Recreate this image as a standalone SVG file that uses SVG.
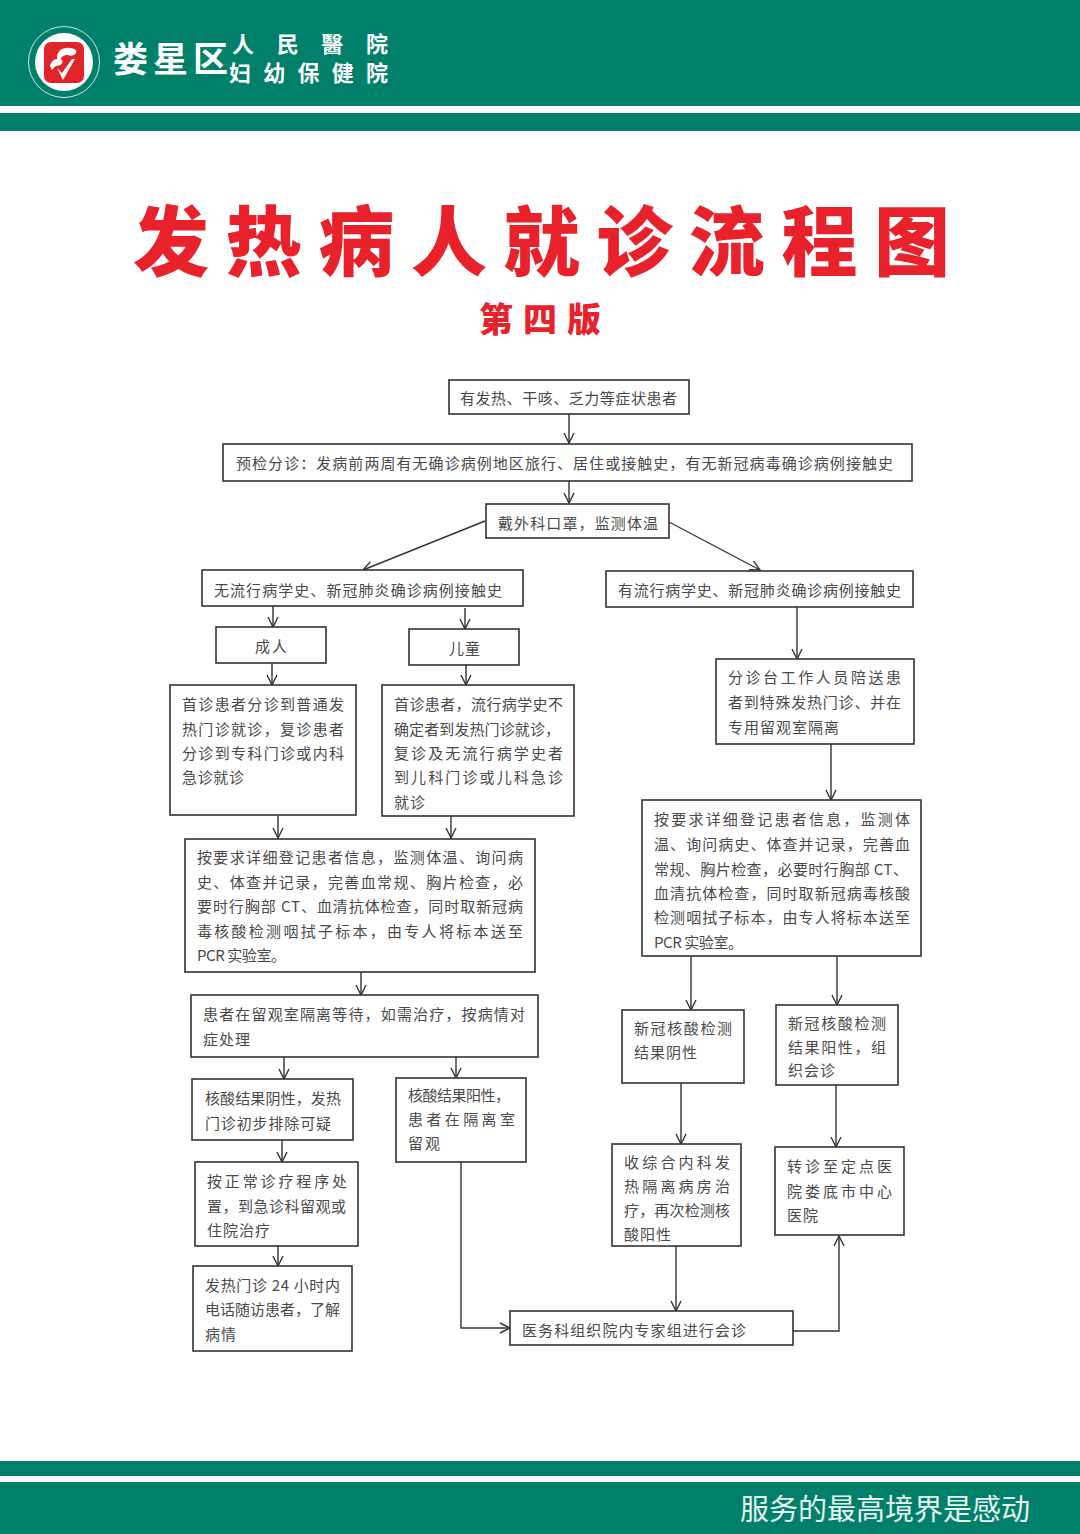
<svg xmlns="http://www.w3.org/2000/svg" width="1080" height="1534" viewBox="0 0 1080 1534">
<style>
.bar{fill:#00806a}
.b{fill:#fff;stroke:#333;stroke-width:1.6}
.t{font-family:"Noto Sans CJK SC","Liberation Sans",sans-serif;font-size:15px;fill:#4a4a4a;font-weight:400}
.c{fill:none;stroke:#333;stroke-width:1.4}
.logo{font-family:"Noto Sans CJK TC","Noto Sans CJK SC",sans-serif;fill:#fff;font-weight:700}
.title{font-family:"Noto Sans CJK SC","Liberation Sans",sans-serif;font-weight:900;fill:#e8212b}
</style>
<defs>
<marker id="a" viewBox="0 0 12 12" refX="11" refY="6" markerWidth="12" markerHeight="12" markerUnits="userSpaceOnUse" orient="auto"><path d="M1 1L11 6L1 11" fill="none" stroke="#333" stroke-width="1.4"/></marker>
</defs>
<rect width="1080" height="1534" fill="#fff"/>
<g id="header">
<rect class="bar" x="0" y="0" width="1080" height="106"/>
<rect class="bar" x="0" y="113" width="1080" height="18"/>
<circle cx="64" cy="62" r="35.5" fill="none" stroke="#cfe8e0" stroke-width="1"/>
<circle cx="64" cy="62" r="29" fill="#fff"/>
<rect x="44" y="42" width="40" height="41" rx="7" fill="#e1242a"/>
<path d="M57 59C56 48 68 45 76 50C78 54 72 57 68 55C64 55 62 56 60 60ZM50 66C51 60 58 57 62 60C64 63 60 66 56 66C54 67 53 69 52 70ZM57 68L62 73L72 59L75 59L63 80Z" fill="#fff"/>
<text class="logo" x="113" y="72" font-size="35" textLength="115">娄星区</text>
<text class="logo" x="232" y="52" font-size="22" textLength="156">人民醫院</text>
<text class="logo" x="229" y="81" font-size="22" textLength="159">妇幼保健院</text>
</g>
<g id="titles">
<text class="title" x="133" y="270" font-size="76" textLength="817">发热病人就诊流程图</text>
<text class="title" x="479" y="332" font-size="34" textLength="122">第四版</text>
</g>
<g id="connectors">
<path class="c" marker-end="url(#a)" d="M569 414V443"/>
<path class="c" marker-end="url(#a)" d="M569 481V503"/>
<path class="c" marker-end="url(#a)" d="M485 521L363 570"/>
<path class="c" marker-end="url(#a)" d="M669 522L760 570"/>
<path class="c" marker-end="url(#a)" d="M273 606V627"/>
<path class="c" marker-end="url(#a)" d="M465 608V629"/>
<path class="c" marker-end="url(#a)" d="M272 663V685"/>
<path class="c" marker-end="url(#a)" d="M466 665V685"/>
<path class="c" marker-end="url(#a)" d="M278 816V838"/>
<path class="c" marker-end="url(#a)" d="M451 816V838"/>
<path class="c" marker-end="url(#a)" d="M797 607V659"/>
<path class="c" marker-end="url(#a)" d="M831 744V800"/>
<path class="c" marker-end="url(#a)" d="M691 956V1010"/>
<path class="c" marker-end="url(#a)" d="M837 956V1005"/>
<path class="c" marker-end="url(#a)" d="M361 972V995"/>
<path class="c" marker-end="url(#a)" d="M284 1057V1079"/>
<path class="c" marker-end="url(#a)" d="M456 1057V1078"/>
<path class="c" marker-end="url(#a)" d="M282 1140V1162"/>
<path class="c" marker-end="url(#a)" d="M278 1246V1266"/>
<path class="c" marker-end="url(#a)" d="M681 1083V1144"/>
<path class="c" marker-end="url(#a)" d="M836 1085V1147"/>
<path class="c" marker-end="url(#a)" d="M676 1246V1311"/>
<path class="c" marker-end="url(#a)" d="M461 1162V1328H510"/>
<path class="c" marker-end="url(#a)" d="M793 1331H839V1236"/>
</g>
<g id="n1"><rect class="b" x="449" y="380" width="240" height="34"/><text class="t" x="460" y="404" textLength="217">有发热、干咳、乏力等症状患者</text></g>
<g id="n2"><rect class="b" x="223" y="444" width="689" height="37"/><text class="t" x="236" y="469" textLength="657">预检分诊：发病前两周有无确诊病例地区旅行、居住或接触史，有无新冠病毒确诊病例接触史</text></g>
<g id="n3"><rect class="b" x="486" y="504" width="183" height="34"/><text class="t" x="498" y="529" textLength="160">戴外科口罩，监测体温</text></g>
<g id="n4"><rect class="b" x="202" y="570" width="321" height="36"/><text class="t" x="214" y="596" textLength="288">无流行病学史、新冠肺炎确诊病例接触史</text></g>
<g id="n5"><rect class="b" x="606" y="571" width="307" height="36"/><text class="t" x="618" y="596" textLength="283">有流行病学史、新冠肺炎确诊病例接触史</text></g>
<g id="n6"><rect class="b" x="216" y="627" width="110" height="36"/><text class="t" x="255" y="652" textLength="32">成人</text></g>
<g id="n7"><rect class="b" x="409" y="629" width="110" height="36"/><text class="t" x="449" y="654" textLength="31">儿童</text></g>
<g id="n8"><rect class="b" x="170" y="685" width="186" height="130"/>
<text class="t" x="182" y="710" textLength="162">首诊患者分诊到普通发</text>
<text class="t" x="182" y="735" textLength="162">热门诊就诊，复诊患者</text>
<text class="t" x="182" y="759" textLength="162">分诊到专科门诊或内科</text>
<text class="t" x="182" y="783" textLength="62">急诊就诊</text></g>
<g id="n9"><rect class="b" x="382" y="685" width="192" height="131"/>
<text class="t" x="394" y="710" textLength="169">首诊患者，流行病学史不</text>
<text class="t" x="394" y="735" textLength="166">确定者到发热门诊就诊，</text>
<text class="t" x="394" y="759" textLength="169">复诊及无流行病学史者</text>
<text class="t" x="394" y="783" textLength="169">到儿科门诊或儿科急诊</text>
<text class="t" x="394" y="808" textLength="31">就诊</text></g>
<g id="n10"><rect class="b" x="716" y="659" width="198" height="85"/>
<text class="t" x="728" y="683" textLength="173">分诊台工作人员陪送患</text>
<text class="t" x="728" y="708" textLength="173">者到特殊发热门诊、并在</text>
<text class="t" x="728" y="733" textLength="111">专用留观室隔离</text></g>
<g id="n11"><rect class="b" x="642" y="800" width="279" height="156"/>
<text class="t" x="654" y="825" textLength="256">按要求详细登记患者信息，监测体</text>
<text class="t" x="654" y="850" textLength="256">温、询问病史、体查并记录，完善血</text>
<text class="t" x="654" y="875" textLength="254">常规、胸片检查，必要时行胸部 CT、</text>
<text class="t" x="654" y="899" textLength="256">血清抗体检查，同时取新冠病毒核酸</text>
<text class="t" x="654" y="923" textLength="256">检测咽拭子标本，由专人将标本送至</text>
<text class="t" x="654" y="948" textLength="89">PCR 实验室。</text></g>
<g id="n12"><rect class="b" x="185" y="839" width="350" height="133"/>
<text class="t" x="197" y="863" textLength="326">按要求详细登记患者信息，监测体温、询问病</text>
<text class="t" x="197" y="888" textLength="326">史、体查并记录，完善血常规、胸片检查，必</text>
<text class="t" x="197" y="912" textLength="326">要时行胸部 CT、血清抗体检查，同时取新冠病</text>
<text class="t" x="197" y="937" textLength="326">毒核酸检测咽拭子标本，由专人将标本送至</text>
<text class="t" x="197" y="961" textLength="89">PCR 实验室。</text></g>
<g id="n13"><rect class="b" x="191" y="995" width="347" height="62"/>
<text class="t" x="203" y="1020" textLength="322">患者在留观室隔离等待，如需治疗，按病情对</text>
<text class="t" x="203" y="1045" textLength="47">症处理</text></g>
<g id="n14"><rect class="b" x="192" y="1079" width="161" height="61"/>
<text class="t" x="205" y="1104" textLength="136">核酸结果阴性，发热</text>
<text class="t" x="205" y="1129" textLength="126">门诊初步排除可疑</text></g>
<g id="n15"><rect class="b" x="396" y="1078" width="130" height="84"/>
<text class="t" x="408" y="1101" textLength="102">核酸结果阳性，</text>
<text class="t" x="408" y="1125" textLength="107">患者在隔离室</text>
<text class="t" x="408" y="1149" textLength="32">留观</text></g>
<g id="n16"><rect class="b" x="195" y="1162" width="163" height="84"/>
<text class="t" x="207" y="1187" textLength="140">按正常诊疗程序处</text>
<text class="t" x="207" y="1212" textLength="139">置，到急诊科留观或</text>
<text class="t" x="207" y="1236" textLength="63">住院治疗</text></g>
<g id="n17"><rect class="b" x="193" y="1266" width="159" height="85"/>
<text class="t" x="205" y="1291" textLength="135">发热门诊 24 小时内</text>
<text class="t" x="205" y="1315" textLength="135">电话随访患者，了解</text>
<text class="t" x="205" y="1340" textLength="31">病情</text></g>
<g id="n18"><rect class="b" x="622" y="1010" width="122" height="73"/>
<text class="t" x="634" y="1034" textLength="98">新冠核酸检测</text>
<text class="t" x="634" y="1058" textLength="63">结果阴性</text></g>
<g id="n19"><rect class="b" x="776" y="1005" width="122" height="80"/>
<text class="t" x="788" y="1029" textLength="98">新冠核酸检测</text>
<text class="t" x="788" y="1053" textLength="98">结果阳性，组</text>
<text class="t" x="788" y="1076" textLength="47">织会诊</text></g>
<g id="n20"><rect class="b" x="612" y="1144" width="129" height="102"/>
<text class="t" x="624" y="1168" textLength="106">收综合内科发</text>
<text class="t" x="624" y="1192" textLength="106">热隔离病房治</text>
<text class="t" x="624" y="1216" textLength="106">疗，再次检测核</text>
<text class="t" x="624" y="1240" textLength="47">酸阳性</text></g>
<g id="n21"><rect class="b" x="775" y="1147" width="129" height="88"/>
<text class="t" x="787" y="1172" textLength="105">转诊至定点医</text>
<text class="t" x="787" y="1197" textLength="105">院娄底市中心</text>
<text class="t" x="787" y="1221" textLength="31">医院</text></g>
<g id="n22"><rect class="b" x="510" y="1311" width="283" height="34"/>
<text class="t" x="522" y="1336" textLength="224">医务科组织院内专家组进行会诊</text></g>
<g id="footer">
<rect class="bar" x="0" y="1461" width="1080" height="15"/>
<rect class="bar" x="0" y="1482" width="1080" height="52"/>
<text x="740" y="1520" font-size="29" textLength="290" style="font-family:'Noto Sans CJK SC','Liberation Sans',sans-serif" fill="#e6f3ef">服务的最高境界是感动</text>
</g>
</svg>
